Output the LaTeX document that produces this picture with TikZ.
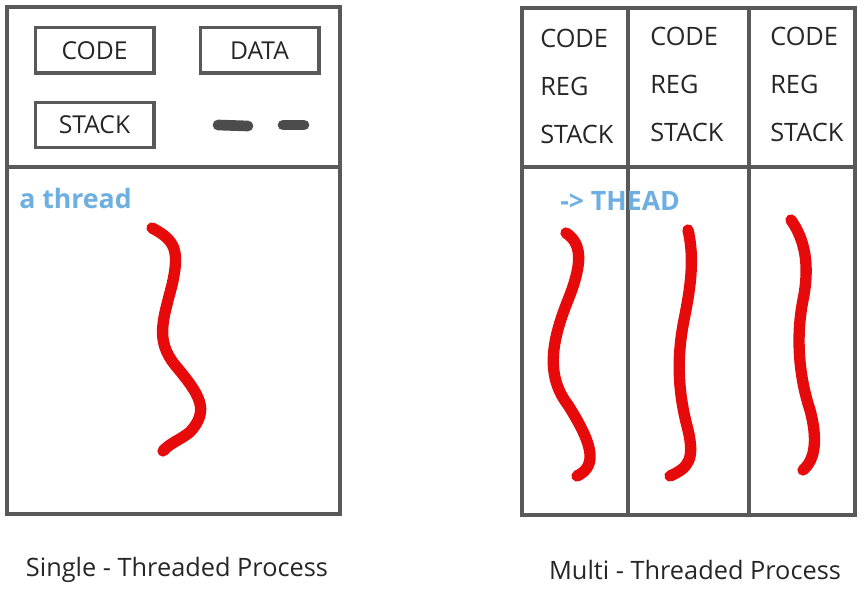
\documentclass[tikz,border=0pt]{standalone}
\usepackage{fontspec}
\setmainfont{Open Sans}
\begin{document}
\begin{tikzpicture}[x=0.75pt,y=-0.75pt,
  frame/.style={draw=black!65,line width=2.5pt},
  box/.style={draw=black!65,line width=2.5pt,minimum width=89pt,minimum height=34pt,inner sep=0pt,font=\fontsize{18.5}{18.5}\selectfont,text=black!85},
  lbl/.style={anchor=west,inner sep=0pt,font=\fontsize{19}{19}\selectfont,text=black!85},
  blue/.style={anchor=west,inner sep=0pt,font=\bfseries\fontsize{20}{20}\selectfont,text={rgb,255:red,110;green,175;blue,225}},
  thr/.style={draw={rgb,255:red,230;green,10;blue,10},line width=8.5pt,line cap=round,line join=round},
  captxt/.style={inner sep=0pt,font=\fontsize{19}{19}\selectfont,text=black!85}]
\useasboundingbox (0,0) rectangle (866,606);
% left
\draw[frame] (7,7) rectangle (340,514);
\draw[frame] (7,167) -- (340,167);
\node[box] (code) at (94.5,50.5) {CODE};
\node[box] (data) at (259.5,50.5) {DATA};
\node[box] (stack) at (94.5,125) {STACK};
\draw[black!70,line width=8pt,line cap=round] (218,125) -- (248,126);
\draw[black!70,line width=8pt,line cap=round] (283,125) -- (304,125);
\node[blue] (at) at (19,198) {a thread};
\draw[thr] (152,228) .. controls (175,240) and (180,250) .. (172,285) .. controls (163,320) and (155,340) .. (175,365) .. controls (200,395) and (210,410) .. (190,432) .. controls (180,440) and (170,443) .. (163,451);
\node[captxt] (c1) at (177,570) {Single - Threaded Process};
% right
\draw[frame] (522,8) rectangle (855,515);
\draw[frame] (628,8) -- (628,515);
\draw[frame] (749,8) -- (749,515);
\draw[frame] (522,167) -- (855,167);
\foreach \x/\y in {540/38,650/36,770/36}{
  \node[lbl] at (\x,\y) {CODE};
  \node[lbl] at (\x,\y+48) {REG};
  \node[lbl] at (\x,\y+96) {STACK};
}
\node[blue] (th) at (560,201) {-> THEAD};
\draw[thr] (566,233) .. controls (585,245) and (580,270) .. (568,300) .. controls (552,340) and (545,375) .. (568,405) .. controls (590,440) and (600,465) .. (577,476);
\draw[thr] (688,230) .. controls (695,260) and (690,290) .. (684,320) .. controls (675,365) and (680,400) .. (688,430) .. controls (695,460) and (688,468) .. (670,476);
\draw[thr] (791,220) .. controls (805,240) and (810,265) .. (803,300) .. controls (795,340) and (800,380) .. (810,410) .. controls (818,440) and (815,460) .. (803,470);
\node[captxt] (c2) at (695,570) {Multi - Threaded Process};
\end{tikzpicture}
\end{document}
